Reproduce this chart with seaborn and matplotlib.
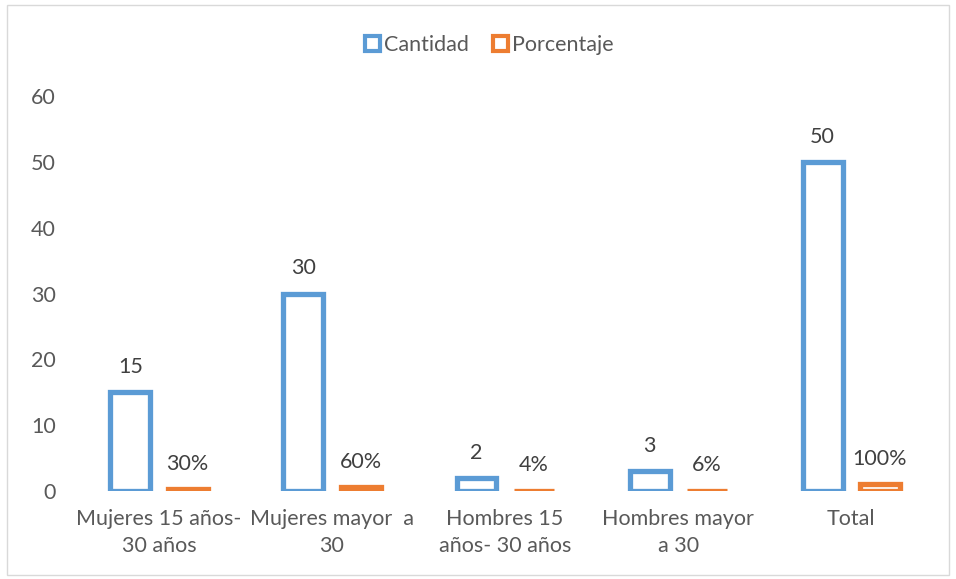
import matplotlib
matplotlib.use("Agg")
import matplotlib.pyplot as plt
from matplotlib.patches import Patch, Rectangle
import seaborn as sns
import pandas as pd

categories = ["Mujeres 15 años-\n30 años", "Mujeres mayor  a\n30", "Hombres 15\naños- 30 años",
              "Hombres mayor\na 30", "Total"]
cantidad = [15, 30, 2, 3, 50]
porcentaje = [0.30, 0.60, 0.04, 0.06, 1.00]
series = ["Cantidad", "Porcentaje"]
colors = ["#5B9BD5", "#ED7D31"]
yticks = [0, 10, 20, 30, 40, 50, 60]

df = pd.DataFrame({
    "cat": categories * 2,
    "val": cantidad + porcentaje,
    "serie": [series[0]] * len(categories) + [series[1]] * len(categories),
})

sns.set_theme(style="white")
plt.rcParams["font.family"] = ["Lato", "DejaVu Sans"]
txt = "#595959"
fs = 15.5

fig = plt.figure(figsize=(9.56, 5.79), dpi=100)
ax = fig.add_axes([0.0758, 0.152, 0.905, 0.682])
sns.barplot(data=df, x="cat", y="val", hue="serie", palette=colors, ax=ax,
            width=0.66, gap=0.3, legend=False, errorbar=None)

for cont, col in zip(ax.containers, colors):
    for p in cont.patches:
        p.set_facecolor("white")
        p.set_edgecolor(col)
        p.set_linewidth(3.8)
        p.set_joinstyle("miter")

ax.bar_label(ax.containers[0], labels=[f"{v}" for v in cantidad], padding=11,
             fontsize=fs, color="#404040")
ax.bar_label(ax.containers[1], labels=[f"{round(v*100)}%" for v in porcentaje], padding=11,
             fontsize=fs, color="#404040")

ax.set_ylim(0, 60)
ax.set_yticks(yticks)
ax.set_yticklabels([str(t) for t in yticks], fontsize=fs, color=txt)
ax.tick_params(axis="y", pad=12, length=0)
ax.tick_params(axis="x", pad=13, length=0, labelsize=fs, labelcolor=txt)
for lab in ax.get_xticklabels():
    lab.set_color(txt)
    lab.set_linespacing(1.45)
ax.set_xlabel("")
ax.set_ylabel("")
for s in ax.spines.values():
    s.set_visible(False)

handles = [Patch(facecolor="white", edgecolor=c, linewidth=3.0) for c in colors]
fig.legend(handles, series, loc="center", bbox_to_anchor=(0.512, 0.923), ncol=2,
           frameon=False, fontsize=fs, handlelength=0.7, handleheight=0.7,
           handletextpad=0.2, columnspacing=1.1, labelcolor=txt)

fig.patches.append(Rectangle((7 / 956, 4 / 579), 942 / 956, 570 / 579, transform=fig.transFigure,
                             fill=False, edgecolor="#d9d9d9", linewidth=1))

fig.savefig("out.png", dpi=100)
